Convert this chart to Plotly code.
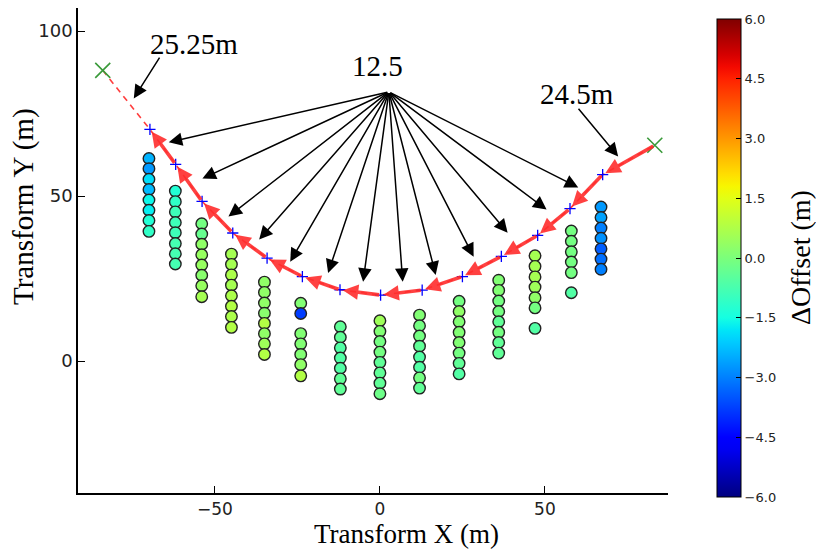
import numpy as np
import plotly.graph_objects as go

# ---------------- data ----------------
col_x = [-70, -62, -54, -45, -35, -24, -12, 0, 12, 24, 36, 47, 58, 67]
col_y = [
    [61.4, 58.3, 55.1, 52.0, 48.8, 45.7, 42.6, 39.3],
    [51.5, 48.3, 45.2, 42.0, 38.9, 35.6, 32.5, 29.4],
    [41.6, 38.5, 35.4, 32.2, 29.1, 26.0, 22.8, 19.5],
    [32.4, 29.3, 26.1, 23.0, 19.8, 16.6, 13.5, 10.2],
    [23.9, 20.8, 17.6, 14.5, 11.4, 8.3, 5.2, 2.0],
    [17.5, 14.4, 8.3, 5.2, 2.0, -1.1, -4.5],
    [10.4, 7.2, 4.0, 0.9, -2.2, -5.4, -8.5],
    [12.2, 9.0, 5.9, 2.7, -0.4, -3.6, -6.7, -9.9],
    [13.9, 10.7, 7.6, 4.5, 1.2, -1.9, -5.1, -8.2],
    [18.1, 15.0, 11.9, 8.7, 5.6, 2.4, -0.7, -3.9],
    [24.5, 21.4, 18.2, 15.0, 11.9, 8.7, 5.6, 2.4],
    [31.9, 28.7, 25.5, 22.4, 19.2, 16.1, 9.9],
    [39.4, 36.3, 33.1, 30.0, 26.8, 20.7],
    [46.7, 43.5, 40.3, 37.2, 34.0, 30.9, 27.8],
]
col_dv = [
    [-2.4, -2.7, -1.9, -2.3, -1.6, -1.7, -1.3, -1.1],
    [-1.3, -1.1, -0.9, -0.9, -0.9, -0.8, -0.8, -0.8],
    [-0.1, -0.3, 0.3, 0.4, 0.4, 0.2, 0.4, 0.6],
    [0.6, 0.6, 0.7, 0.6, 0.7, 0.8, 0.7, 0.8],
    [0.3, 0.3, 0.3, 0.2, 0.8, 0.3, 0.5, 0.8],
    [0.1, -3.8, 0.1, 0.1, 0.1, 0.3, 0.8],
    [-0.4, -0.4, -0.6, -0.6, -0.6, -0.4, -0.4],
    [0.5, 0.1, -0.1, -0.1, -0.4, -0.4, -0.4, -0.2],
    [0.1, -0.1, -0.1, -0.4, -0.6, -0.6, -0.1, -0.4],
    [-0.1, 0.3, 0.1, 0.1, 0.1, -0.1, -0.4, -0.6],
    [0.1, 0.1, -0.1, -0.1, -0.4, -0.1, -0.4, -0.4],
    [0.6, 0.6, 0.6, 0.5, 0.3, -0.1, -0.6],
    [-0.1, -0.1, -0.1, -0.1, -0.1, -0.6],
    [-2.7, -2.6, -3.0, -2.8, -3.4, -3.2, -3.0],
]

# path (blue + markers) and end points (green x)
path_x = [-69.7, -61.9, -53.9, -44.6, -34.2, -23.5, -12.1, 0.2, 12.8, 25.0, 36.8, 47.8, 57.6, 67.5]
path_y = [70.2, 59.6, 48.4, 38.8, 31.2, 25.6, 21.6, 20.0, 21.5, 25.6, 31.7, 38.1, 46.2, 56.5]
end_x = [-84.0, 83.3]
end_y = [88.1, 65.4]

# annotation arrows "12.5"
label_main = "12.5"
label_main_pos = (-0.6, 89.5)
fan_origin = (2.7, 81.6)
fan_tip_x = [-64.0, -53.8, -45.9, -36.6, -27.2, -15.7, -5.1, 6.9, 16.9, 28.4, 38.7, 50.5, 60.1]
fan_tip_y = [66.3, 55.3, 43.8, 36.8, 30.1, 26.7, 24.0, 24.0, 26.1, 31.6, 38.9, 45.9, 52.6]

label_left = "25.25m"
label_left_pos = (-56.2, 96.0)
left_arrow = ((-66.5, 92.4), (-74.6, 79.6))
label_right = "24.5m"
label_right_pos = (59.8, 81.0)
right_arrow = ((59.8, 76.9), (72.2, 62.0))

cbar_ticks = [-6.0, -4.5, -3.0, -1.5, 0.0, 1.5, 3.0, 4.5, 6.0]

# ---------------- matplotlib "jet" colorscale ----------------
def jet(t):
    r = np.interp(t, [0, 0.35, 0.66, 0.89, 1], [0, 0, 1, 1, 0.5])
    g = np.interp(t, [0, 0.125, 0.375, 0.64, 0.91, 1], [0, 0, 1, 1, 0, 0])
    b = np.interp(t, [0, 0.11, 0.34, 0.65, 1], [0.5, 1, 1, 0, 0])
    return "rgb(%d,%d,%d)" % (round(r * 255), round(g * 255), round(b * 255))

ts = np.linspace(0, 1, 41)
jet_scale = [[float(t), jet(t)] for t in ts]

xs, ys, cs = [], [], []
for cx, cy, cv in zip(col_x, col_y, col_dv):
    for yv, vv in zip(cy, cv):
        xs.append(cx)
        ys.append(yv)
        cs.append(vv)

SERIF = "Liberation Serif"
SANS = "DejaVu Sans"

fig = go.Figure()

# dashed red guide line along the whole path
fig.add_trace(go.Scatter(
    x=[end_x[0]] + path_x + [end_x[1]], y=[end_y[0]] + path_y + [end_y[1]],
    mode="lines", line=dict(color="rgba(255,40,40,0.9)", width=1.6, dash="6px,5px"),
    hoverinfo="skip", showlegend=False))

fig.add_trace(go.Scatter(
    x=xs, y=ys, mode="markers",
    marker=dict(size=11.5, color=cs, cmin=-6, cmax=6, colorscale=jet_scale,
                line=dict(color="#222222", width=1.4),
                showscale=True,
                colorbar=dict(
                    x=(717 - 78) / 590, xanchor="left", xpad=0, ypad=0,
                    y=(493 - 258) / 485, yanchor="middle",
                    len=478 / 485, lenmode="fraction",
                    thickness=24, thicknessmode="pixels",
                    outlinewidth=1, outlinecolor="black",
                    tickvals=cbar_ticks,
                    ticktext=[("%.1f" % v).replace("-", "\u2212") for v in cbar_ticks],
                    ticks="inside", ticklen=5, tickcolor="black",
                    tickfont=dict(family=SANS, size=13, color="#222"),
                )),
    showlegend=False))

fig.add_trace(go.Scatter(
    x=path_x, y=path_y, mode="markers",
    marker=dict(symbol="cross-thin", size=8, line=dict(color="blue", width=1.3)),
    showlegend=False))

fig.add_trace(go.Scatter(
    x=end_x, y=end_y, mode="markers",
    marker=dict(symbol="x-thin", size=15, line=dict(color="#3a9a3a", width=1.6)),
    showlegend=False))

ann = []
# red quiver arrows (right to left)
red = "rgba(255,45,45,0.9)"
src_x = path_x[1:] + [end_x[1]]
src_y = path_y[1:] + [end_y[1]]
dst_x = path_x[:]
dst_y = path_y[:]
for sx, sy, dx, dy in zip(src_x, src_y, dst_x, dst_y):
    ann.append(dict(x=dx, y=dy, ax=sx, ay=sy, xref="x", yref="y", axref="x", ayref="y",
                    text="", showarrow=True, arrowhead=2, arrowsize=0.85, arrowwidth=3.6,
                    arrowcolor=red, standoff=3))

# black fan arrows
for tx, ty in zip(fan_tip_x, fan_tip_y):
    ann.append(dict(x=tx, y=ty, ax=fan_origin[0], ay=fan_origin[1], xref="x", yref="y",
                    axref="x", ayref="y", text="", showarrow=True, arrowhead=2,
                    arrowsize=1.8, arrowwidth=1.5, arrowcolor="black"))
for (a0, a1) in [left_arrow, right_arrow]:
    ann.append(dict(x=a1[0], y=a1[1], ax=a0[0], ay=a0[1], xref="x", yref="y",
                    axref="x", ayref="y", text="", showarrow=True, arrowhead=2,
                    arrowsize=1.8, arrowwidth=1.5, arrowcolor="black"))

for txt, pos in [(label_main, label_main_pos), (label_left, label_left_pos), (label_right, label_right_pos)]:
    ann.append(dict(x=pos[0], y=pos[1], xref="x", yref="y", text=txt, showarrow=False,
                    font=dict(family=SERIF, size=29, color="black"),
                    xanchor="center", yanchor="middle"))

# axis titles and colorbar title
ann.append(dict(x=(406 - 78) / 590, y=(493 - 550) / 485, xref="paper", yref="paper",
                text="Transform X (m)", showarrow=False, xanchor="center", yanchor="bottom",
                borderpad=0, font=dict(family=SERIF, size=27, color="black")))
ann.append(dict(x=(23 - 78) / 590, y=(493 - 207) / 485, xref="paper", yref="paper",
                text="Transform Y (m)", showarrow=False, xanchor="center", yanchor="middle",
                textangle=-90, font=dict(family=SERIF, size=29, color="black")))
ann.append(dict(x=(800 - 78) / 590, y=(493 - 258) / 485, xref="paper", yref="paper",
                text="\u0394Offset (m)", showarrow=False, xanchor="center", yanchor="middle",
                textangle=-90, font=dict(family=SERIF, size=28, color="black")))

axis_common = dict(showgrid=False, zeroline=False, showline=True, linecolor="black",
                   linewidth=1.6, mirror=False, ticks="inside", ticklen=7, tickwidth=1,
                   tickcolor="black")

fig.update_layout(
    width=816, height=549, autosize=False,
    margin=dict(l=78, r=148, t=8, b=56, pad=0),
    paper_bgcolor="white", plot_bgcolor="white",
    xaxis=dict(range=[-91.5, 87.3], tickvals=[-50, 0, 50],
               tickfont=dict(family=SANS, size=17, color="#222"), **axis_common),
    yaxis=dict(range=[-40, 107], tickvals=[0, 50, 100],
               tickfont=dict(family=SANS, size=18, color="#222"), **axis_common),
    annotations=ann,
    showlegend=False,
)

fig.write_html("out.html")
